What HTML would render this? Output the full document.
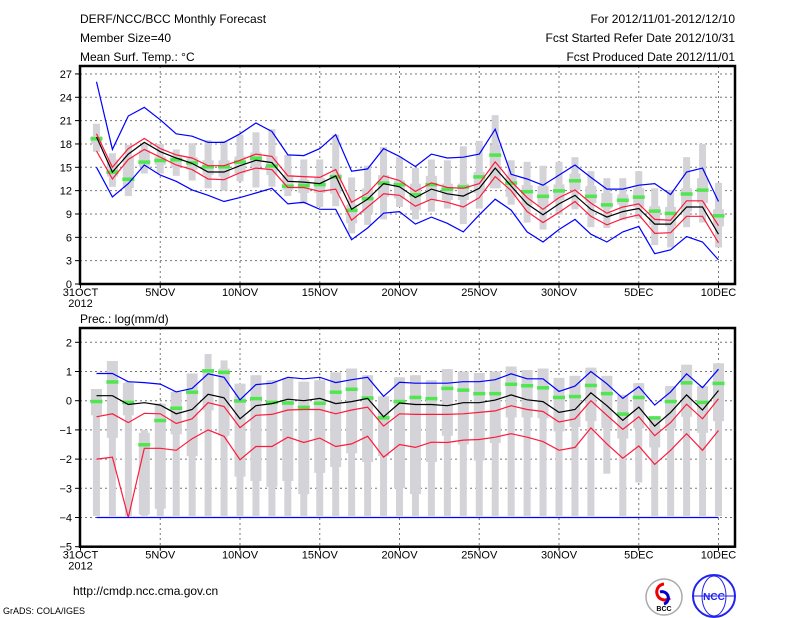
<!DOCTYPE html>
<html><head><meta charset="utf-8">
<style>
body{margin:0;background:#fff;}
svg{display:block;font-family:"Liberation Sans",sans-serif;}
.t{font-size:12px;fill:#000;}
.ax{font-size:11px;fill:#000;}
</style></head>
<body>
<svg id="svg" width="800" height="618" viewBox="0 0 800 618" xmlns="http://www.w3.org/2000/svg">
<g>
<text class="t" x="80" y="23">DERF/NCC/BCC Monthly Forecast</text>
<text class="t" x="80" y="42">Member Size=40</text>
<text class="t" x="80" y="61">Mean Surf. Temp.: °C</text>
<text class="t" x="735" y="23" text-anchor="end">For 2012/11/01-2012/12/10</text>
<text class="t" x="735" y="42" text-anchor="end">Fcst Started Refer Date 2012/10/31</text>
<text class="t" x="735" y="61" text-anchor="end">Fcst Produced Date 2012/11/01</text>
</g>
<text class="t" x="80" y="323">Prec.: log(mm/d)</text>
<g id="c1"></g>
<g id="c2"></g>
<g>
<text class="t" x="73" y="595">http://cmdp.ncc.cma.gov.cn</text>
<text x="3" y="614" style="font-size:9px">GrADS: COLA/IGES</text>
<g>
<circle cx="664" cy="597" r="18" fill="#fff" stroke="#aaa" stroke-width="1.5"/>
<path d="M664 584 a8 8 0 1 0 6 14" fill="none" stroke="#e00" stroke-width="3"/>
<path d="M664 604 a6 6 0 1 0 -4 -12" fill="none" stroke="#00c" stroke-width="3"/>
<text x="664" y="611" text-anchor="middle" style="font-size:7px;font-weight:bold">BCC</text>
</g>
<g>
<circle cx="714" cy="596" r="21" fill="#fff" stroke="#22e" stroke-width="2"/>
<ellipse cx="714" cy="596" rx="12" ry="20" fill="none" stroke="#22e"/>
<line x1="694" y1="596" x2="734" y2="596" stroke="#22e"/>
<text x="714" y="600" text-anchor="middle" style="font-size:10px;font-weight:bold;fill:#22e">NCC</text>
</g>
</g>
</svg>
<script>
// ---- data ----
const days = [1,2,3,4,5,6,7,8,9,10,11,12,13,14,15,16,17,18,19,20,21,22,23,24,25,26,27,28,29,30,31,32,33,34,35,36,37,38,39,40];
const xTickLabels = ["31OCT","5NOV","10NOV","15NOV","20NOV","25NOV","30NOV","5DEC","10DEC"];
const tMax = [26,17.3,21.6,22.7,21.1,19.3,19,18.2,18.2,19.3,20.7,19.6,16.6,16.5,17.4,19.2,14.5,14.8,17.4,16.4,15.1,16.7,16.2,16.3,16.7,19.9,14.1,13.5,12.7,14,15.3,13.7,12.2,12.2,12.7,12.9,11.5,14.4,14.9,10.6];
const tUp = [19.3,15,17.4,18.7,17.4,16.6,16.2,15.2,15.2,15.9,16.7,16.4,13.9,13.8,13.7,14.7,10.5,11.7,13.9,13.3,11.9,13,12.4,12.3,12.9,15.7,13.2,11.1,9.6,11.1,12.1,10.4,9.1,9.9,10.3,8.3,8.2,10.7,10.7,7.5];
const tMean = [18.9,14.4,16.7,18.2,17,16.2,15.5,14.4,14.4,15.2,15.9,15.6,13.2,13.1,12.9,13.9,9.6,10.9,12.9,12.5,11.1,12.2,11.6,11.3,12.3,14.9,12.6,10.3,8.9,10.3,11.4,9.6,8.6,9.3,9.7,7.7,7.7,9.9,9.9,6.4];
const tLow = [17.1,13.5,16,17.3,16.3,15.3,14.7,13.5,13.4,14.3,14.9,14.7,12.4,12.4,11.9,12.2,8.2,9.9,11.6,11.4,10,10.9,10.5,9.9,11.1,13.8,12,9.3,7.9,9.2,10.6,8.7,7.6,8.4,8.9,6.5,6.6,8.7,8.7,5.3];
const tMin = [15,11.2,12.9,15.3,14,13.2,12.1,11.4,10.6,11.1,11.7,12.3,10.3,10.5,9.6,9.6,5.7,7.2,9.1,9.3,7.7,8.6,7.8,6.7,8.9,10.9,9.5,6.7,5.4,7,8.3,6.4,5.4,6.7,7.4,3.9,4.4,6.1,5.4,3.1];
const tObs = [18.7,14.4,13.5,15.7,15.9,16,15.6,15.1,15.1,15.7,16.2,15.2,12.6,12.7,12.8,13.8,9.5,11,13,12.8,11.5,12.8,12.2,12.5,13.8,16.6,13,11.9,11.3,12,13.3,11.3,10.2,10.8,11.2,9.4,9.1,11.6,12.1,8.8];
const tHi = [20.6,16.8,17.9,18.1,18,17.3,18.1,18.5,18.4,19.2,19.5,19.9,16.6,16,16,19.2,13.7,15.2,17.6,16.3,14.9,16,15.9,17.7,18.4,21.7,15.9,15.7,15.2,15.7,16.3,14.5,13.6,13.6,14.5,12.3,12.1,16.3,18,13];
const tLo = [17,12.5,11.3,14.2,14.2,13.9,13.3,12.3,12,13.2,12.4,12.5,11.3,10.3,9.9,10,6.5,7.6,8.3,9.9,8.3,9.3,9.7,7.7,9.7,12.3,10.2,7.9,7,8.9,9.6,7.3,7.2,8.2,8.4,5,4.7,7.3,7.9,4.7];
const tQ3 = [19,16,16.4,17.2,16.4,16.4,16.3,15.9,15.9,16.4,16.9,16.4,14,13.4,13.6,14.2,10.2,12.3,14,13.3,12.9,13.9,12.9,12.9,14.4,17.9,13.8,12.7,12.6,12.8,14.2,12.6,11.7,11.5,12.3,10,9.9,12.3,13.6,9.6];
const tQ1 = [18,13.8,12.3,15.1,15.3,15,14.7,14,13.8,14.2,15.1,14,12.1,11.7,11.7,11.6,7.8,9.1,11.2,11,9.5,10.6,10.8,10.8,11.7,12.3,11.2,10.1,9.9,10.8,12.1,10.4,9.7,10.2,9.9,7.6,7.4,9.3,10.4,7.4];

const pMax = [.93,.93,.65,.62,.57,.3,.42,.92,.8,.03,.55,.6,.8,.75,.8,.62,.72,.8,.15,.63,.6,.6,.6,.65,.65,.72,.92,.75,.75,.32,.5,1.0,.58,.08,.48,-.15,.3,.92,.45,1.08];
const pMean = [.17,.17,-.13,-.07,-.15,-.45,-.3,.22,.1,-.62,-.17,-.1,.05,0,.08,-.1,-.03,.08,-.55,-.08,-.13,-.13,-.17,-.07,-.07,.02,.2,.03,-.03,-.4,-.3,.27,-.17,-.67,-.22,-.87,-.4,.2,-.32,.35];
const pUp = [-.55,-.45,-.75,-.43,-.45,-.78,-.62,-.07,-.2,-.92,-.5,-.47,-.32,-.3,-.3,-.45,-.32,-.22,-.87,-.45,-.47,-.47,-.47,-.45,-.4,-.35,-.17,-.3,-.37,-.73,-.62,0,-.5,-.98,-.55,-1.2,-.75,-.12,-.62,.07];
const pLow = [-2,-1.93,-4,-1.63,-1.63,-1.7,-1.3,-1,-1.22,-2.02,-1.57,-1.57,-1.25,-1.43,-1.28,-1.57,-1.48,-1.22,-1.93,-1.5,-1.6,-1.42,-1.43,-1.35,-1.33,-1.25,-1.13,-1.25,-1.4,-1.7,-1.6,-.93,-1.48,-1.97,-1.55,-2.18,-1.7,-1.13,-1.7,-1.02];
const pMin = [-4,-4,-4,-4,-4,-4,-4,-4,-4,-4,-4,-4,-4,-4,-4,-4,-4,-4,-4,-4,-4,-4,-4,-4,-4,-4,-4,-4,-4,-4,-4,-4,-4,-4,-4,-4,-4,-4,-4,-4];
const pObs = [-.02,.65,-.05,-1.5,-.67,-.25,.3,1.03,.98,0,.08,-.05,-.07,-.22,-.08,.3,.4,.1,-.58,-.02,.12,.08,.43,.37,.25,.25,.57,.52,.45,.12,.15,.53,.25,-.45,.12,-.58,-.02,.62,-.05,.6];
const pHi = [.4,1.36,.65,-1,-.1,.33,.93,1.6,1.38,.58,.87,.7,.78,.65,.7,.97,1.1,.87,.15,.8,.87,.7,1.08,1,.95,1,1.17,1.05,1.1,.78,.85,1.13,.85,.2,.6,-.58,.5,1.23,.5,1.28];
const pLo = [-3.95,-3.95,-3.95,-3.95,-3.95,-3.95,-3.95,-3.95,-3.95,-3.95,-3.95,-3.95,-3.95,-3.95,-3.95,-3.95,-3.95,-3.95,-3.95,-3.95,-3.95,-3.95,-3.95,-3.95,-3.95,-3.95,-3.95,-3.95,-3.95,-3.95,-3.95,-3.95,-2.5,-3.95,-2.8,-3.95,-3.95,-3.95,-3.95,-3.95];
const pQ3 = [.4,1.36,.6,-1.1,-.1,.3,.93,1,1.1,.58,.87,.7,.78,.65,.7,.97,1.1,.87,.15,.8,.87,.7,1.08,1,.95,1,1.17,1.05,1.1,.78,.85,1.13,.85,.2,.6,-.58,.5,1.23,.5,1.28];
const pQ1 = [-.5,-1.27,-.5,-3.9,-3.7,-1.15,-1.9,-.33,-1.2,-2.6,-2.75,-2.95,-2.75,-3.2,-2.47,-2.27,-1.8,-2.1,-1.9,-3,-3.2,-2.1,-1.2,-1.5,-2.05,-1.45,-.57,-.57,-.6,-1.05,-.9,-.7,-.95,-1.3,-.95,-1.6,-.95,-.55,-1.1,-.7];
const tYTicks = [0,3,6,9,12,15,18,21,24,27];
const pYTicks = [-5,-4,-3,-2,-1,0,1,2];

// ---- drawing ----
const NS = "http://www.w3.org/2000/svg";
const L = 80, R = 735;
function xs(d){ return L + 0.5 + d * 15.95; }
function mk(parent, tag, attrs){
  const e = document.createElementNS(NS, tag);
  for (const k in attrs) e.setAttribute(k, attrs[k]);
  parent.appendChild(e);
  return e;
}
function chart(g, top, bottom, ys, yTicks, vMin, S, labelY){
  for (let i = 1; i < xTickLabels.length; i++){
    const x = xs(i*5);
    const gl = mk(g,'line',{x1:x,x2:x,y1:top,y2:bottom,stroke:'#777','stroke-width':1,'stroke-dasharray':'2,3'});
    
    
  }
  yTicks.forEach(v => {
    const y = ys(v);
    if (y > top+2 && y < bottom-2){
      const gl = mk(g,'line',{x1:L,x2:R,y1:y,y2:y,stroke:'#777','stroke-width':1,'stroke-dasharray':'2,3'});
      
      
    }
    const tk = mk(g,'line',{x1:L-5,x2:L,y1:y,y2:y,stroke:'#000'});
    
    
    const t = mk(g,'text',{x:L-8,y:y+4,'text-anchor':'end','class':'ax'});
    t.textContent = v < 0 ? '\u2212' + Math.abs(v) : String(v);
    
    
  });
  xTickLabels.forEach((lab, i) => {
    const x = xs(i*5);
    const tk = mk(g,'line',{x1:x,x2:x,y1:bottom,y2:bottom+4,stroke:'#000'});
    
    
    const t = mk(g,'text',{x:x,y:bottom+12,'text-anchor':'middle','class':'ax'});
    t.textContent = lab;
    
    
  });
  const yr = mk(g,'text',{x:xs(0),y:bottom+23,'text-anchor':'middle','class':'ax'});
  yr.textContent = '2012';
  
  
  S.days.forEach((d, i) => {
    const x = xs(d);
    const b1 = mk(g,'rect',{x:x-3.5,width:7,y:ys(S.hi[i]),height:Math.max(1,ys(S.lo[i])-ys(S.hi[i])),fill:'#d3d3d8'});
    
    
    const b2 = mk(g,'rect',{x:x-5.5,width:11,y:ys(S.q3[i]),height:Math.max(1,ys(S.q1[i])-ys(S.q3[i])),fill:'#d3d3d8'});
    
    
  });
  S.days.forEach((d, i) => {
    const x = xs(d);
    const o = mk(g,'rect',{x:x-6,width:12,y:ys(S.obs[i])-1.5,height:3.5,fill:'#50e650'});
    
    
  });
  const lines = [[S.max,'#0000ff','max-line'],[S.up,'#ff1a3c','upper-line'],[S.mean,'#000','mean-line'],[S.low,'#ff1a3c','lower-line'],[S.min,'#0000ff','min-line']];
  lines.forEach(([arr, col, nm]) => {
    const pts = S.days.map((d, i) => xs(d).toFixed(1) + ',' + ys(arr[i]).toFixed(1)).join(' ');
    const p = mk(g,'polyline',{points:pts,fill:'none',stroke:col,'stroke-width':1.2});
    
    
  });
  const f = mk(g,'rect',{x:L,y:top,width:R-L,height:bottom-top,fill:'none',stroke:'#000','stroke-width':2.5});
  
  
}
const y1 = v => 284 - v * 7.78;
const y2 = v => 400.7 - v * 29.2;
chart(document.getElementById('c1'), 66, 284, y1, tYTicks, 0,
  {days:days,hi:tHi,lo:tLo,q3:tQ3,q1:tQ1,obs:tObs,max:tMax,up:tUp,mean:tMean,low:tLow,min:tMin});
chart(document.getElementById('c2'), 328, 546.7, y2, pYTicks, -5,
  {days:days,hi:pHi,lo:pLo,q3:pQ3,q1:pQ1,obs:pObs,max:pMax,up:pUp,mean:pMean,low:pLow,min:pMin});
</script>
</body></html>
